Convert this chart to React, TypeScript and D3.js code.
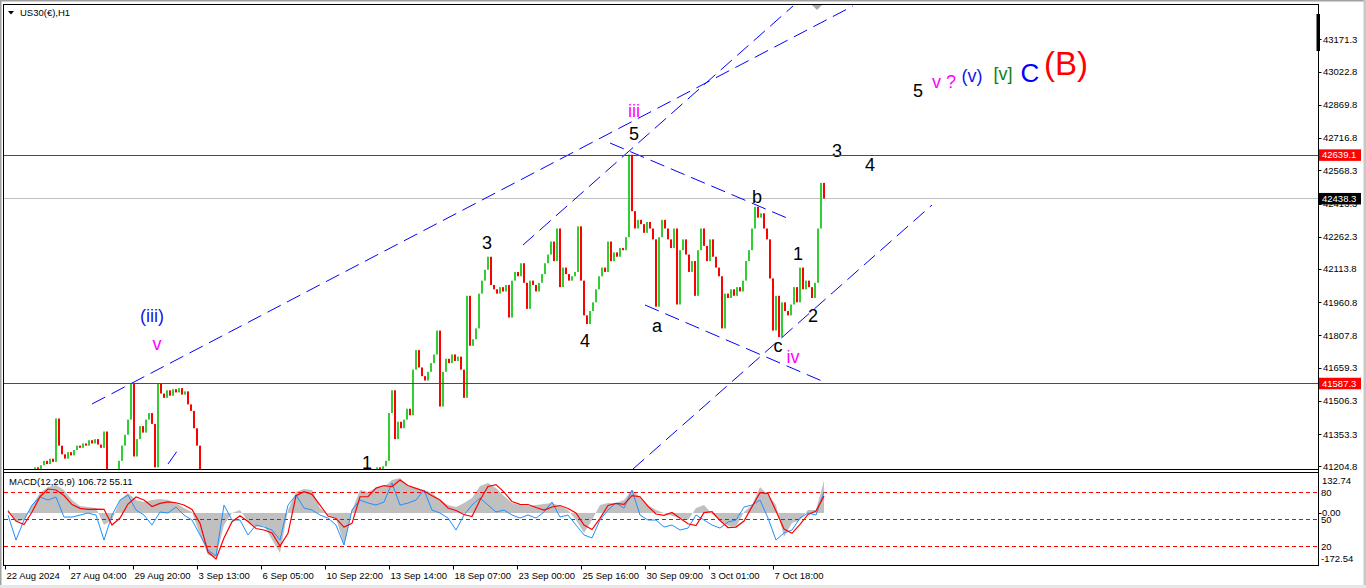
import React from 'react';
import * as d3 from 'd3';

// ---------- DATA ----------
// H3-sampled closes (one value per 3 hours), first bar at hour 0
const closes: number[] = [
  41120, 41090, 41060, 41080, 41110, 41140, 41100, 41130, 41160, 41150,
  41200, 41185, 41210, 41230, 41215, 41240, 41225, 41425, 41300, 41260,
  41240, 41270, 41255, 41280, 41300, 41290, 41310, 41300, 41325, 41310,
  41330, 41305, 41290, 41365, 41180, 41100, 41080, 41150, 41230, 41300,
  41350, 41420, 41587, 41250, 41330, 41390, 41360, 41420, 41450, 41400,
  41200, 41587, 41540, 41520, 41555, 41530, 41560, 41545, 41565, 41535,
  41550, 41490, 41460, 41380, 41300, 41150, 41080, 41050, 41000, 40960,
  40920, 40900, 40880, 40860, 40850, 40870, 40890, 40860, 40830, 40800,
  40780, 40760, 40750, 40770, 40800, 40830, 40850, 40880, 40900, 40920,
  40900, 40880, 40860, 40900, 40940, 40980, 41000, 41020, 41040, 41010,
  40980, 40960, 40940, 40920, 40900, 40880, 40860, 40840, 40820, 40800,
  40780, 40760, 40740, 40760, 40790, 40820, 40850, 40880, 40910, 40950,
  41000, 41060, 41120, 41170, 41200, 41190, 41205, 41230, 41450, 41555,
  41330, 41410, 41380, 41420, 41470, 41440, 41650, 41740, 41660, 41620,
  41600, 41640, 41680, 41720, 41830, 41480, 41640, 41700, 41680, 41720,
  41690, 41710, 41650, 41520, 41990, 41760, 41790, 41840, 42000, 42060,
  42110, 42170, 42040, 42020, 42000, 42030, 42010, 42040, 41890, 42060,
  42100, 42080, 42140, 42050, 41930, 42060, 42040, 42010, 42050, 42090,
  42140, 42180, 42240, 42150, 42300, 42030, 42120, 42090, 42060, 42080,
  42100, 42310, 42060, 41900, 41860, 41920, 41960, 42020, 42080, 42120,
  42100, 42240, 42150, 42190, 42170, 42210, 42200, 42260, 42640, 42380,
  42300, 42340, 42320, 42280, 42330, 42300, 42250, 41940, 42260, 42340,
  42300, 42250, 42210, 42300, 41950, 42200, 42250, 42180, 42100, 42150,
  41990, 42200, 42300, 42220, 42150, 42250, 42170, 42120, 42080, 41840,
  42000, 41980, 42020, 41990, 42030, 42010, 42060, 42150, 42200, 42300,
  42400, 42350, 42370, 42300, 42250, 42070, 41830, 41990, 41800, 41960,
  41920, 41900, 41950, 42030, 41960, 42120, 42020, 42060, 42030, 41980,
  42050, 42300, 42510, 42438.3,
];
const barHours = 3;

// MACD samples every 8 hours starting at hour 3
const macdHist: number[] = [
  12.8, -29.2, -23.3, 25.9, 65.3, 85.0, 91.6, 75.2, 42.3, 22.7,
  19.4, 16.1, -39.7, -23.3, 42.3, 65.3, 42.3, 35.8, 42.3, 45.6,
  42.3, 32.5, 16.1, 3.0, -72.4, -138.2, -144.8, -39.7, -0.3, 9.5,
  -29.2, -45.6, -42.3, -88.3, -131.6, 9.5, 68.6, 78.5, 75.2, 16.1,
  -6.9, -16.7, -105.4, 9.5, 75.2, 68.6, 81.7, 85.0, 108.0, 114.6,
  88.3, 81.7, 75.2, 65.3, 42.3, 25.9, 19.4, 32.5, 49.0, 88.3,
  98.2, 81.7, 55.5, 32.5, 25.9, 22.7, 25.9, 29.2, 32.5, 22.7,
  9.5, -23.3, -65.9, -23.3, 25.9, 32.5, 32.5, 42.3, 75.2, 52.2,
  25.9, 9.5, -0.3, -10.2, -16.7, -23.3, 16.1, 25.9, -3.6, -23.3,
  -42.3, -45.6, 3.0, 25.9, 85.0, 58.8, 25.9, -79.0, -33.0, -23.3,
  9.5, 9.5, 106.72,
];
const macdSignal: number[] = [
  6.2, -26.6, -38.1, 3.0, 53.2, 78.5, 75.2, 57.1, 27.6, 15.1,
  11.8, 12.8, 11.8, -39.7, -16.7, 29.2, 52.2, 42.3, 21.0, 31.5,
  36.4, 33.5, 25.9, 11.2, -34.1, -128.4, -151.3, -82.4, -28.9, -9.2,
  -28.2, -51.2, -56.1, -66.0, -108.7, -67.0, 56.5, 69.6, 61.1, 25.9,
  -10.2, -18.4, -46.3, -34.1, 53.2, 53.2, 81.7, 89.3, 86.0, 108.0,
  90.0, 80.8, 71.9, 56.5, 42.3, 16.1, 7.9, -5.3, -11.8, 42.3,
  86.7, 93.2, 68.6, 37.4, 28.2, 27.6, 17.7, 9.5, 19.4, 24.3,
  14.4, -0.3, -39.7, -54.5, -17.7, 24.3, 31.2, 27.9, 57.1, 53.2,
  21.7, -3.6, -8.2, 1.3, -17.7, -35.5, -41.4, 1.0, 3.9, -25.0,
  -47.9, -46.3, -26.6, 20.4, 66.3, 63.7, 6.2, -52.9, -67.0, -37.4,
  -4.9, 6.6, 55.11,
];
const macdFast: number[] = [
  -6.9, -88.9, -23.3, 25.9, 52.2, 42.3, 52.2, -13.5, -13.5, -6.9,
  -0.3, -6.9, -88.9, -6.9, 42.3, 58.8, 9.5, -6.9, -39.7, 3.0,
  -0.3, 19.4, -6.9, -23.3, -72.4, -121.8, -141.5, 25.9, -23.3, -23.3,
  -72.4, -39.7, -46.3, -56.1, -88.9, 25.9, 58.8, 16.1, 9.5, -6.9,
  -16.7, -39.7, -105.4, 9.5, 42.3, 32.5, 25.9, 35.8, 98.2, 25.9,
  32.5, 42.3, 75.2, 9.5, -0.3, -16.7, -56.1, -6.9, 25.9, 48.9,
  25.9, 3.0, 9.5, -6.9, -16.7, -6.9, -16.7, 3.0, 35.8, -13.5,
  -6.9, -39.7, -72.4, -82.2, -23.3, 9.5, 32.5, 16.1, 75.2, -6.9,
  -23.3, -23.3, -46.3, -39.7, -56.1, -49.6, -6.9, -23.3, -39.7, -49.6,
  -29.9, -23.3, 19.4, 25.9, 42.3, -16.7, -88.9, -65.9, -56.1, -16.7,
  -0.3, -6.9, 68.6,
];
const macdStartHour = 3;
const macdStepHours = 8;
const macdLevels = [80, 50, 20];
const macdMax = 132.74;
const macdMin = -172.54;

const priceTicks = [
  43171.3, 43022.8, 42869.8, 42716.8, 42568.3, 42413.3, 42262.3,
  42113.8, 41960.8, 41807.8, 41659.3, 41506.3, 41353.3, 41204.8,
];
const timeLabels = [
  '22 Aug 2024', '27 Aug 04:00', '29 Aug 20:00', '3 Sep 13:00', '6 Sep 05:00',
  '10 Sep 22:00', '13 Sep 14:00', '18 Sep 07:00', '23 Sep 00:00', '25 Sep 16:00',
  '30 Sep 09:00', '3 Oct 01:00', '7 Oct 18:00',
];
const timeLabelStepHours = 64;

const levelPrices = [42639.1, 41587.3];
const lastPrice = 42438.3;

// trend lines: [hour1, price1, hour2, price2]
const trendLines: [number, number, number, number][] = [
  [87, 41491.7, 848, 43324.7],
  [518, 42224.0, 788, 43324.7],
  [628, 41192.4, 927, 42408.2],
  [163, 41215.4, 175, 41293.7],
  [605, 42693.7, 782, 42348.3],
  [640, 41947.7, 817, 41597.6],
];

// wave labels: text, hour (centre), price (baseline), degree
const waveLabels: { t: string; h: number; p: number; d: string }[] = [
  { t: '(iii)', h: 147, p: 41869.4, d: 'minor' },
  { t: 'v', h: 152, p: 41740.4, d: 'minute' },
  { t: '1', h: 362, p: 41192.4, d: 'sub' },
  { t: '3', h: 482, p: 42205.6, d: 'sub' },
  { t: '4', h: 580, p: 41754.2, d: 'sub' },
  { t: 'iii', h: 629, p: 42813.5, d: 'minute' },
  { t: '5', h: 629, p: 42707.6, d: 'sub' },
  { t: 'a', h: 652, p: 41823.3, d: 'sub' },
  { t: 'b', h: 752, p: 42417.4, d: 'sub' },
  { t: 'c', h: 773, p: 41731.2, d: 'sub' },
  { t: 'iv', h: 788, p: 41680.6, d: 'minute' },
  { t: '1', h: 793, p: 42154.9, d: 'sub' },
  { t: '2', h: 808, p: 41869.4, d: 'sub' },
  { t: '3', h: 832, p: 42629.3, d: 'sub' },
  { t: '4', h: 865, p: 42564.8, d: 'sub' },
  { t: '5', h: 913, p: 42905.6, d: 'sub' },
  { t: 'v ?', h: 939, p: 42947.0, d: 'minute' },
  { t: '(v)', h: 967, p: 42974.7, d: 'minor' },
  { t: '[v]', h: 998, p: 42983.9, d: 'intermediate' },
  { t: 'C', h: 1025, p: 42974.7, d: 'primary' },
  { t: '(B)', h: 1061, p: 43006.9, d: 'cycle' },
];

// ---------- STYLE ----------
const degreeStyle: Record<string, { color: string; size: number }> = {
  sub: { color: '#000000', size: 18 },
  minute: { color: '#FF00FF', size: 18 },
  minor: { color: '#1414E6', size: 18 },
  intermediate: { color: '#108010', size: 18 },
  primary: { color: '#0000FF', size: 26 },
  cycle: { color: '#FF0000', size: 33 },
};

const FONT = '"Liberation Sans", Arial, sans-serif';
const AX = 9.5;
const GREEN = '#32CD32';
const RED = '#FF0000';
const L = 4, R = 1318.5, T = 4.5, MB = 469.5, MT = 472.5, MBOT = 565.5;

export default function App() {
  const x = d3.scaleLinear().domain([0, 1313]).range([5, 1318]);
  const y = d3.scaleLinear().domain([41192.4, 43333.9]).range([469, 4]);
  const my = d3.scaleLinear().domain([macdMin, macdMax]).range([MBOT, MT]);
  const ly = d3.scaleLinear().domain([0, 100]).range([564, 474]);

  const mh = (k: number) => x(macdStartHour + k * macdStepHours);
  const histArea = d3.area<number>().x((_, k) => mh(k)).y0(my(0)).y1((v) => my(v))(macdHist) || '';
  const sigLine = d3.line<number>().x((_, k) => mh(k)).y((v) => my(v))(macdSignal) || '';
  const fastLine = d3.line<number>().x((_, k) => mh(k)).y((v) => my(v))(macdFast) || '';

  return (
    <svg width={1366} height={588} style={{ position: 'fixed', left: 0, top: 0, background: '#fff' }} fontFamily={FONT}>
      <defs>
        <clipPath id="mainClip"><rect x={L} y={T} width={R - L} height={MB - T} /></clipPath>
        <clipPath id="macdClip"><rect x={L} y={MT} width={R - L} height={MBOT - MT} /></clipPath>
      </defs>
      <rect x={0} y={0} width={1366} height={588} fill="#fff" />
      {/* window edges */}
      <rect x={0} y={0} width={1366} height={1.5} fill="#A0A0A0" />
      <rect x={0} y={0} width={1.5} height={588} fill="#A0A0A0" />
      <rect x={1363.5} y={0} width={2.5} height={588} fill="#C8C8C8" />
      <rect x={0} y={585} width={1366} height={3} fill="#E6E6E6" />

      {/* main panel */}
      <g clipPath="url(#mainClip)">
        <line x1={L} x2={R} y1={Math.round(y(lastPrice)) + 0.5} y2={Math.round(y(lastPrice)) + 0.5} stroke="#C0C0C0" strokeWidth={1} shapeRendering="crispEdges" />
        {closes.map((c, i) => {
          const o = i > 0 ? closes[i - 1] : c;
          const cx = Math.round(x(i * barHours));
          const y1 = y(Math.max(o, c));
          const y2 = y(Math.min(o, c));
          return (
            <rect key={i} x={cx - 1} y={y1} width={2} height={Math.max(1, y2 - y1)} fill={c >= o ? GREEN : RED} />
          );
        })}
        {trendLines.map(([h1, p1, h2, p2], i) => (
          <line key={i} x1={x(h1)} y1={y(p1)} x2={x(h2)} y2={y(p2)} stroke="#0000FF" strokeWidth={1} strokeDasharray="15,7" />
        ))}
        {waveLabels.map((w, i) => {
          const s = degreeStyle[w.d];
          return (
            <text key={i} x={x(w.h)} y={y(w.p)} fill={s.color} fontSize={s.size} textAnchor="middle">{w.t}</text>
          );
        })}
      </g>
      {levelPrices.map((p) => (
        <line key={p} x1={L} x2={R} y1={Math.round(y(p)) + 0.5} y2={Math.round(y(p)) + 0.5} stroke="rgb(255,0,0)" strokeWidth={1.2} />
      ))}
      {/* shift marker */}
      <path d="M812,5 L822,5 L817,10 Z" fill="#A8A8A8" />

      {/* title */}
      <path d="M8,11 L14,11 L11,14.5 Z" fill="#000" />
      <text x={20} y={16} fontSize={AX} fill="#000">US30(€),H1</text>

      {/* macd panel */}
      <g clipPath="url(#macdClip)">
        <path d={histArea} fill="#C0C0C0" stroke="none" />
        {macdLevels.map((lv) => (
          <line key={lv} x1={L} x2={R} y1={Math.round(ly(lv)) + 0.5} y2={Math.round(ly(lv)) + 0.5} stroke={RED} strokeWidth={1} strokeDasharray="4,3" />
        ))}
        <path d={fastLine} fill="none" stroke="#1E90FF" strokeWidth={1} />
        <path d={sigLine} fill="none" stroke={RED} strokeWidth={1.2} />
      </g>
      <text x={9} y={485} fontSize={AX} fill="#000">MACD(12,26,9) {macdHist[macdHist.length - 1].toFixed(2)} {macdSignal[macdSignal.length - 1].toFixed(2)}</text>

      {/* frames */}
      <g stroke="#000" strokeWidth={1} shapeRendering="crispEdges">
        <line x1={3.5} x2={3.5} y1={4} y2={566} />
        <line x1={3} x2={R} y1={T} y2={T} />
        <line x1={R} x2={R} y1={4} y2={566} />
        <line x1={3} x2={R} y1={MB} y2={MB} />
        <line x1={3} x2={R} y1={MT} y2={MT} />
        <line x1={3} x2={R} y1={MBOT} y2={MBOT} />
      </g>
      <rect x={1316.5} y={14} width={3.5} height={37} fill="#000" />

      {/* price axis */}
      {priceTicks.map((p) => (
        <g key={p}>
          <line x1={R} x2={R + 3} y1={Math.round(y(p)) + 0.5} y2={Math.round(y(p)) + 0.5} stroke="#000" />
          <text x={1323} y={y(p) + 3.5} fontSize={AX} fill="#000">{p.toFixed(1)}</text>
        </g>
      ))}
      {levelPrices.map((p) => (
        <g key={p}>
          <rect x={1319} y={y(p) - 5.5} width={42} height={11.5} fill={RED} />
          <text x={1322} y={y(p) + 3.5} fontSize={AX} fill="#fff">{p.toFixed(1)}</text>
        </g>
      ))}
      <rect x={1319} y={y(lastPrice) - 5.5} width={42} height={11.5} fill="#000" />
      <text x={1322} y={y(lastPrice) + 3.5} fontSize={AX} fill="#fff">{lastPrice.toFixed(1)}</text>

      {/* macd axis */}
      <text x={1322} y={my(macdMax) + 11} fontSize={AX} fill="#000">{macdMax.toFixed(2)}</text>
      <line x1={R} x2={R + 3} y1={Math.round(my(0)) + 0.5} y2={Math.round(my(0)) + 0.5} stroke="#000" />
      <text x={1322} y={my(0) + 3} fontSize={AX} fill="#000">{(0).toFixed(2)}</text>
      {macdLevels.map((lv) => (
        <text key={lv} x={1321} y={ly(lv) + 3.5} fontSize={AX} fill="#000">{lv}</text>
      ))}
      <text x={1321} y={my(macdMin) - 4} fontSize={AX} fill="#000">{macdMin.toFixed(2)}</text>

      {/* time axis */}
      {timeLabels.map((t, k) => {
        const tx = Math.round(x(k * timeLabelStepHours)) + 0.5;
        return (
          <g key={t}>
            <line x1={tx} x2={tx} y1={MBOT} y2={MBOT + 4} stroke="#000" />
            <text x={tx + 1} y={579} fontSize={AX} fill="#000">{t}</text>
          </g>
        );
      })}
    </svg>
  );
}
